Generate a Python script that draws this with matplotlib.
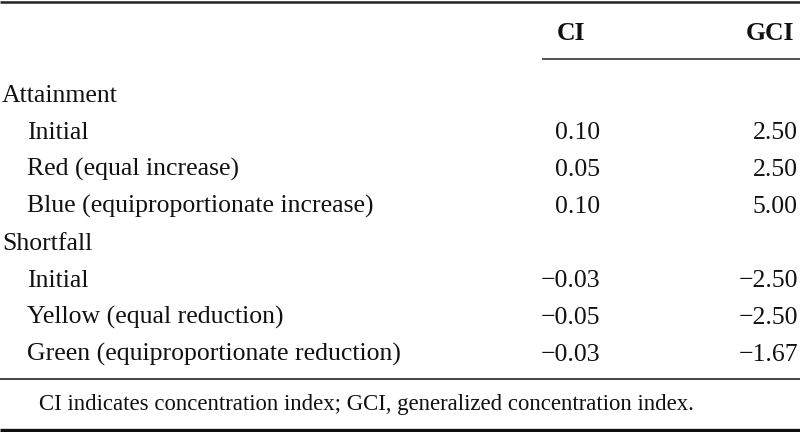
import matplotlib
matplotlib.use('Agg')
import matplotlib.pyplot as plt

# table content
row_labels = ["Attainment", "Initial", "Red (equal increase)",
              "Blue (equiproportionate increase)", "Shortfall", "Initial",
              "Yellow (equal reduction)", "Green (equiproportionate reduction)"]
row_indent = [False, True, True, True, False, True, True, True]
ci_values = ["", "0.10", "0.05", "0.10", "", "\u22120.03", "\u22120.05", "\u22120.03"]
gci_values = ["", "2.50", "2.50", "5.00", "", "\u22122.50", "\u22122.50", "\u22121.67"]
headers = ["CI", "GCI"]
footnote = "CI indicates concentration index; GCI, generalized concentration index."

W, H = 800, 432
fig = plt.figure(figsize=(W / 100, H / 100), dpi=100)
ax = fig.add_axes([0, 0, 1, 1])
ax.set_xlim(0, W)
ax.set_ylim(H, 0)
ax.axis('off')

font = dict(family='Liberation Serif', fontsize=18.5, color='#111111')

# rules
ax.plot([0, W], [2, 2], color='#222222', lw=1.8, solid_capstyle='butt')
ax.plot([542, W], [59, 59], color='#333333', lw=1.2, solid_capstyle='butt')
ax.plot([0, W], [378.5, 378.5], color='#222222', lw=1.2, solid_capstyle='butt')
ax.plot([0, W], [429.5, 429.5], color='#111111', lw=2.4, solid_capstyle='butt')

# header
ax.text(571, 40, headers[0], ha='center', va='baseline', fontweight='bold', **font)
ax.text(770, 40, headers[1], ha='center', va='baseline', fontweight='bold', **font)

# rows
first_base, step = 102, 37.0
for i, lab in enumerate(row_labels):
    yb = first_base + i * step
    ax.text(27 if row_indent[i] else 2, yb, lab, ha='left', va='baseline', **font)
    if ci_values[i]:
        ax.text(600, yb, ci_values[i], ha='right', va='baseline', **font)
    if gci_values[i]:
        ax.text(798, yb, gci_values[i], ha='right', va='baseline', **font)

ax.text(39, 410, footnote, ha='left', va='baseline', family='Liberation Serif',
        fontsize=16.4, color='#111111')

fig.savefig('out.png', dpi=100, facecolor='white')
